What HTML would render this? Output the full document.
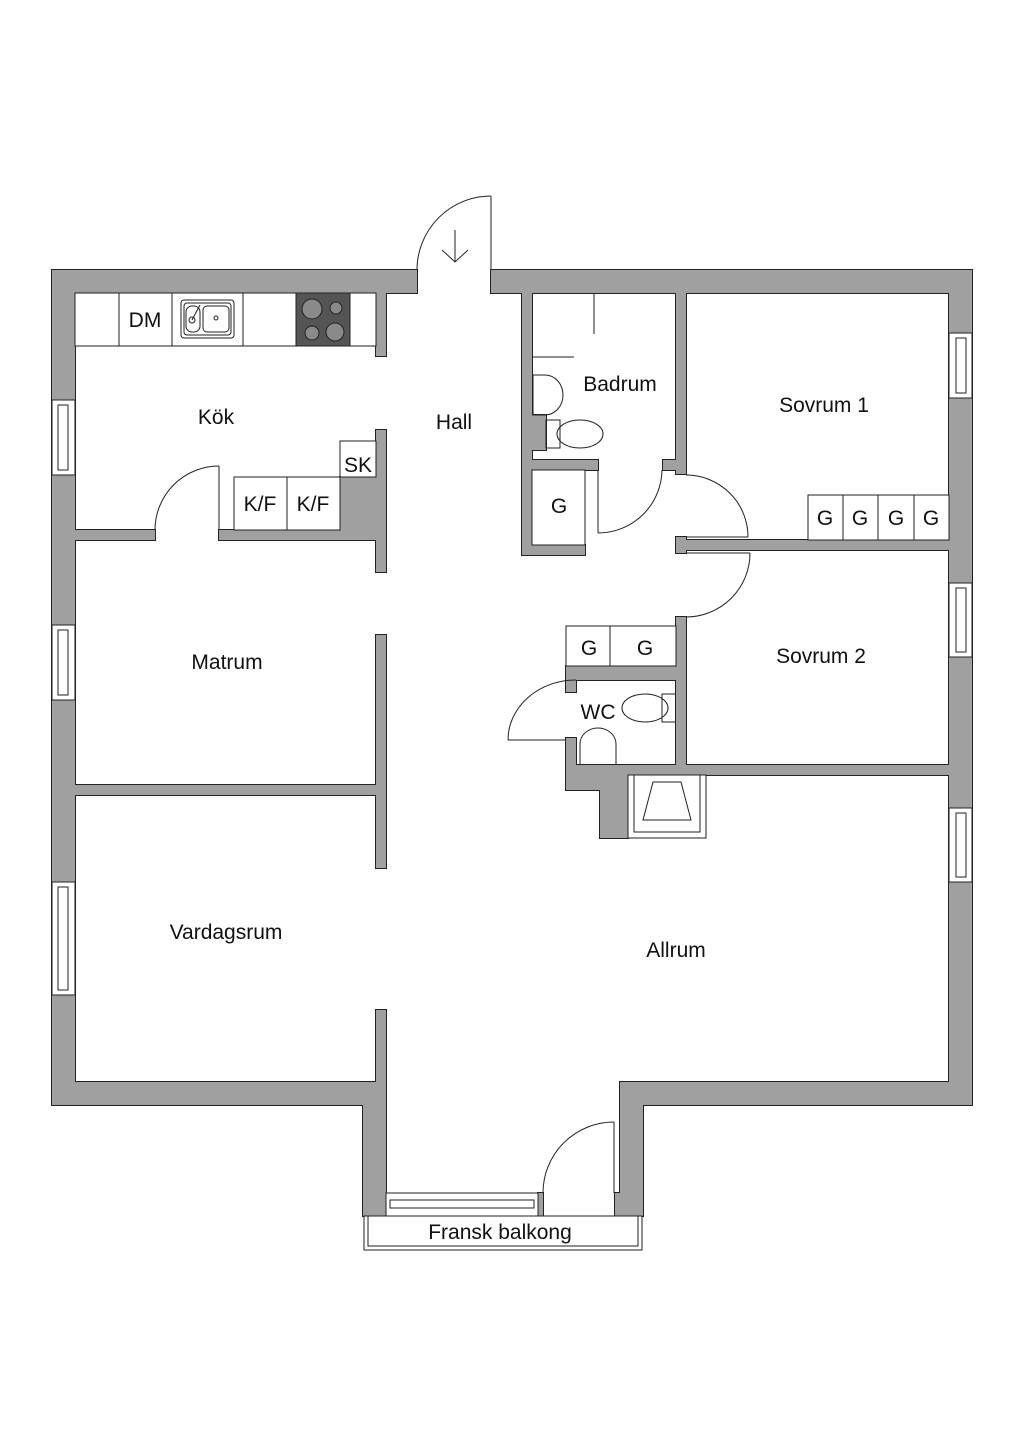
<!DOCTYPE html>
<html><head><meta charset="utf-8"><style>
html,body{margin:0;padding:0;background:#fff;}
svg{display:block;}
text{font-family:"Liberation Sans",sans-serif;fill:#111;}
</style></head><body>
<svg width="1024" height="1448" viewBox="0 0 1024 1448" xmlns="http://www.w3.org/2000/svg">
<defs>
<g id="walls">
<rect x="52" y="270" width="365" height="23"/>
<rect x="491" y="270" width="481" height="23"/>
<rect x="52" y="270" width="23" height="835"/>
<rect x="949" y="270" width="23" height="835"/>
<rect x="52" y="1082" width="334" height="23"/>
<rect x="620" y="1082" width="352" height="23"/>
<rect x="363" y="1082" width="23" height="134"/>
<rect x="620" y="1082" width="23" height="134"/>
<rect x="376" y="293" width="10" height="63"/>
<rect x="376" y="430" width="10" height="142"/>
<rect x="340" y="477" width="36" height="53"/>
<rect x="75" y="530" width="80" height="10"/>
<rect x="219" y="530" width="157" height="10"/>
<rect x="376" y="635" width="10" height="233"/>
<rect x="75" y="785" width="301" height="10"/>
<rect x="376" y="1010" width="10" height="80"/>
<rect x="522" y="293" width="10" height="262"/>
<rect x="532" y="415" width="14" height="35"/>
<rect x="532" y="460" width="66" height="10"/>
<rect x="522" y="545" width="63" height="10"/>
<rect x="676" y="293" width="10" height="181"/>
<rect x="663" y="460" width="23" height="10"/>
<rect x="676" y="537" width="10" height="16"/>
<rect x="686" y="540" width="263" height="10"/>
<rect x="676" y="617" width="10" height="158"/>
<rect x="686" y="765" width="263" height="10"/>
<rect x="566" y="666" width="110" height="14"/>
<rect x="566" y="680" width="10" height="12"/>
<rect x="566" y="738" width="10" height="52"/>
<rect x="576" y="765" width="110" height="10"/>
<rect x="566" y="775" width="62" height="15"/>
<rect x="600" y="775" width="28" height="63"/>
<rect x="538" y="1193" width="5" height="23"/>
<rect x="615" y="1193" width="5" height="23"/>
</g>
</defs>
<use href="#walls" fill="#a0a0a0" stroke="#222" stroke-width="2"/>
<use href="#walls" fill="#a0a0a0" stroke="none"/>
<!-- windows -->
<g fill="#fff" stroke="#222" stroke-width="1">
<rect x="52" y="400" width="23" height="75"/><rect x="58" y="405" width="10" height="65"/>
<rect x="52" y="625" width="23" height="75"/><rect x="58" y="630" width="10" height="65"/>
<rect x="52" y="882" width="23" height="113"/><rect x="58" y="887" width="10" height="103"/>
<rect x="949" y="333" width="23" height="65"/><rect x="956" y="338" width="10" height="55"/>
<rect x="949" y="583" width="23" height="74"/><rect x="956" y="588" width="10" height="64"/>
<rect x="949" y="808" width="23" height="74"/><rect x="956" y="813" width="10" height="64"/>
<rect x="386" y="1193" width="152" height="23"/><rect x="390" y="1200" width="144" height="8"/>
<rect x="364" y="1216" width="278" height="34"/><rect x="368" y="1216" width="270" height="30"/>
<rect x="75" y="293" width="301" height="53"/>
<line x1="119" y1="293" x2="119" y2="346"/><line x1="172" y1="293" x2="172" y2="346"/><line x1="243" y1="293" x2="243" y2="346"/>
<rect x="181" y="300" width="53" height="38" rx="3"/><rect x="184" y="303" width="47" height="32" rx="3"/>
<rect x="186" y="306" width="14" height="26" rx="6"/><rect x="203" y="306" width="26" height="26" rx="4"/>
<circle cx="216" cy="318" r="2"/><circle cx="192" cy="320" r="3"/><line x1="192" y1="320" x2="200" y2="305"/>
<rect x="234" y="477" width="53" height="53"/><rect x="287" y="477" width="53" height="53"/>
<rect x="340" y="441" width="36" height="36"/>
<rect x="532" y="470" width="53" height="75"/>
<rect x="808" y="495" width="35" height="45"/><rect x="843" y="495" width="35" height="45"/><rect x="878" y="495" width="36" height="45"/><rect x="914" y="495" width="35" height="45"/>
<rect x="566" y="626" width="44" height="40"/><rect x="610" y="626" width="66" height="40"/>
<rect x="628" y="775" width="78" height="63"/><rect x="634" y="775" width="66" height="57"/>
<polygon points="653,782 681,782 691,820 643,820"/>
</g>
<rect x="296" y="293" width="54" height="53" fill="#555" stroke="#222"/>
<g fill="#8a8a8a" stroke="#222">
<circle cx="312" cy="309" r="10"/><circle cx="336" cy="308" r="6"/><circle cx="312" cy="333" r="7"/><circle cx="335" cy="332" r="9"/>
</g>
<g fill="none" stroke="#222" stroke-width="1">
<line x1="491" y1="196" x2="491" y2="270"/><path d="M491,196 A74,74 0 0 0 417,270"/>
<line x1="455" y1="230" x2="455" y2="262"/><polyline points="442,250 455,262 468,250"/>
<line x1="219" y1="466" x2="219" y2="530"/><path d="M219,466 A64,64 0 0 0 155,530"/>
<line x1="598" y1="470" x2="598" y2="533"/><path d="M598,533 A64,64 0 0 0 662,470"/>
<line x1="686" y1="537" x2="748" y2="537"/><path d="M686,475 A62,62 0 0 1 748,537"/>
<line x1="686" y1="553" x2="750" y2="553"/><path d="M750,553 A64,64 0 0 1 686,617"/>
<line x1="508" y1="740" x2="566" y2="740"/><path d="M508,740 A68,60 0 0 1 576,680"/>
<line x1="614" y1="1122" x2="614" y2="1193"/><path d="M614,1122 A71,71 0 0 0 543,1193"/>
<line x1="594" y1="293" x2="594" y2="334"/><line x1="533" y1="357" x2="574" y2="357"/>
<path d="M533,375 h12 a18,20 0 0 1 0,40 h-12 z"/>
<path d="M546,420 h14 v28 h-14 z"/><ellipse cx="580" cy="434" rx="23" ry="14"/>
<path d="M676,694 h-14 v28 h14"/><ellipse cx="645" cy="708" rx="23" ry="14"/>
<path d="M580,764 v-20 a18,16 0 0 1 36,0 v20"/>
</g>
<g font-size="21" text-anchor="middle">
<text x="216" y="424">Kök</text>
<text x="454" y="429">Hall</text>
<text x="620" y="391">Badrum</text>
<text x="824" y="412">Sovrum 1</text>
<text x="821" y="663">Sovrum 2</text>
<text x="227" y="669">Matrum</text>
<text x="598" y="719">WC</text>
<text x="226" y="939">Vardagsrum</text>
<text x="676" y="957">Allrum</text>
<text x="500" y="1239">Fransk balkong</text>
<text x="145" y="327">DM</text>
<text x="260" y="511">K/F</text>
<text x="313" y="511">K/F</text>
<text x="358" y="472">SK</text>
<text x="559" y="513">G</text>
<text x="825" y="525">G</text><text x="860" y="525">G</text><text x="896" y="525">G</text><text x="931" y="525">G</text>
<text x="589" y="655">G</text><text x="645" y="655">G</text>
</g>
</svg>
</body></html>
